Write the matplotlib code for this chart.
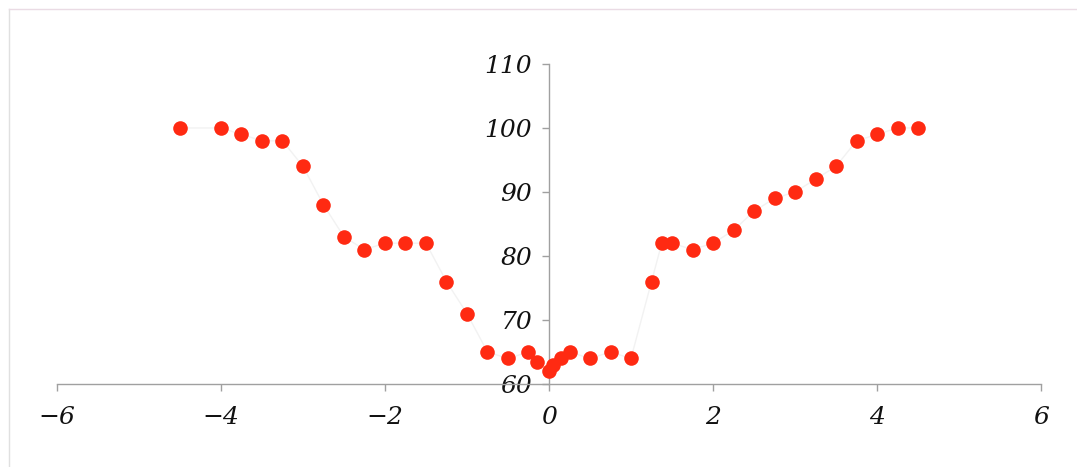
import matplotlib.pyplot as plt
from matplotlib.lines import Line2D

# data
x_vals = [-4.5, -4, -3.75, -3.5, -3.25, -3, -2.75, -2.5, -2.25, -2, -1.75, -1.5,
          -1.25, -1, -0.75, -0.5, -0.25, -0.15, 0, 0.05, 0.15, 0.25,
          0.5, 0.75, 1, 1.25, 1.375, 1.5, 1.75, 2, 2.25, 2.5, 2.75, 3, 3.25,
          3.5, 3.75, 4, 4.25, 4.5]
y_vals = [100, 100, 99, 98, 98, 94, 88, 83, 81, 82, 82, 82,
          76, 71, 65, 64, 65, 63.5, 62, 63, 64, 65,
          64, 65, 64, 76, 82, 82, 81, 82, 84, 87, 89, 90, 92,
          94, 98, 99, 100, 100]
x_ticks = [-6, -4, -2, 0, 2, 4, 6]
x_labels = ['\u22126', '\u22124', '\u22122', '0', '2', '4', '6']
y_ticks = [60, 70, 80, 90, 100, 110]

fig = plt.figure(figsize=(10.77, 4.67), dpi=100)
ax = fig.add_axes([0.0529, 0.1777, 0.9137, 0.6853])

# faint connecting line, then the red dots
ax.plot(x_vals, y_vals, color='#f2f2f2', lw=1, zorder=1)
ax.plot(x_vals, y_vals, 'o', color='#ff2a12', markersize=10.5,
        markeredgewidth=0, zorder=3)

ax.set_xlim(-6, 6)
ax.set_ylim(60, 110)
ax.set_xticks(x_ticks)
ax.set_xticklabels(x_labels)
ax.set_yticks(y_ticks)

# axes cross at x=0 / y=60
ax.spines['left'].set_position(('data', 0))
ax.spines['right'].set_visible(False)
ax.spines['top'].set_visible(False)
for s in ['left', 'bottom']:
    ax.spines[s].set_color('#a0a0a0')
    ax.spines[s].set_linewidth(1)

ax.tick_params(axis='both', direction='out', length=5, width=1, color='#a0a0a0',
               labelsize=18)
ax.tick_params(axis='x', pad=11)
ax.tick_params(axis='y', pad=7)
for lab in ax.get_xticklabels() + ax.get_yticklabels():
    lab.set_fontfamily('DejaVu Serif')
    lab.set_fontstyle('italic')
    lab.set_color('#111111')

# light border of the chart area
fig.add_artist(Line2D([9 / 1077, 9 / 1077], [0, 1 - 9 / 467], color='#e0e0e0', lw=1))
fig.add_artist(Line2D([9 / 1077, 1], [1 - 9 / 467, 1 - 9 / 467], color='#eadbe4', lw=1))

fig.savefig('out.png', dpi=100)
